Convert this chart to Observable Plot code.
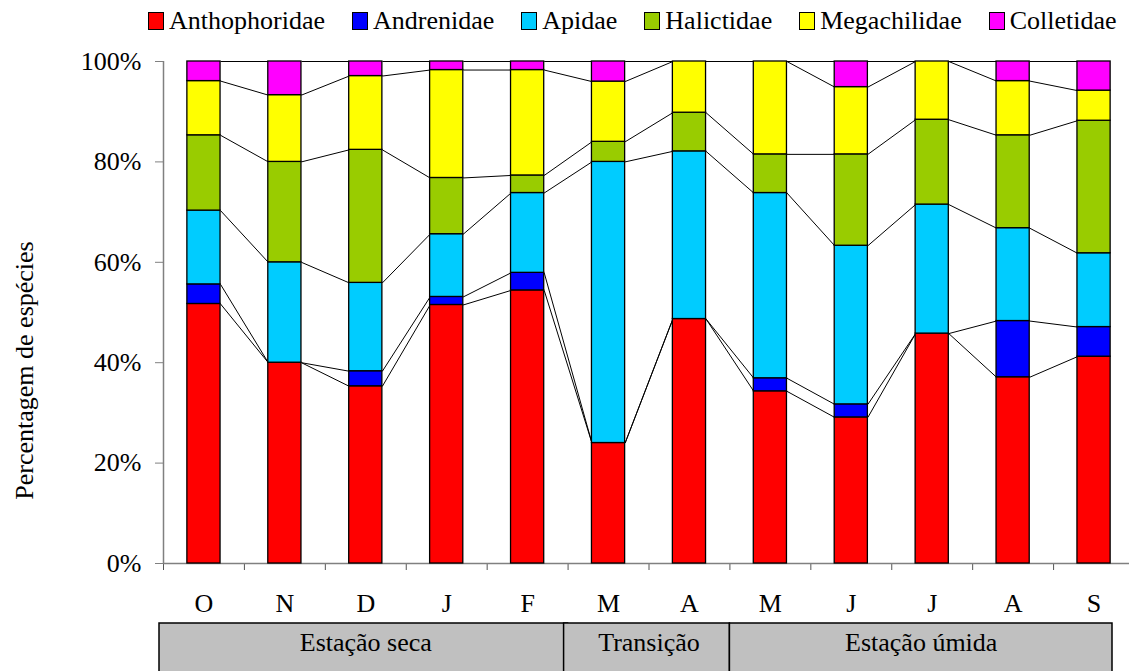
<!DOCTYPE html>
<html>
<head>
<meta charset="utf-8">
<script src="https://cdn.jsdelivr.net/npm/d3@7"></script>
<script src="https://cdn.jsdelivr.net/npm/@observablehq/plot@0.6"></script>
<style>
  body { margin: 0; background: white; font-family: "Liberation Serif", "Times New Roman", serif; }
  #legend { position: relative; height: 42px; display: flex; align-items: center; padding-left: 148px; font-size: 26px; color: black; }
  .item { display: flex; align-items: center; margin-right: 27px; }
  .sw { width: 14px; height: 16px; border: 1.5px solid black; margin-right: 5px; }
  svg { display: block; }
</style>
</head>
<body>
<div id="legend"></div>
<div id="chart"></div>
<div id="seasons"></div>
<script>
// ---- data ----
const months = ["O", "N", "D", "J", "F", "M", "A", "M", "J", "J", "A", "S"];
const families = ["Anthophoridae", "Andrenidae", "Apidae", "Halictidae", "Megachilidae", "Colletidae"];
const familyColors = ["#FF0000", "#0000FF", "#00CCFF", "#99CC00", "#FFFF00", "#FF00FF"];
const anthophoridae = [51.7, 40.0, 35.3, 51.5, 54.4, 24.0, 48.7, 34.3, 29.1, 45.8, 37.1, 41.2];
const andrenidae    = [3.9, 0, 3.0, 1.6, 3.5, 0, 0, 2.6, 2.6, 0, 11.2, 5.9];
const apidae        = [14.7, 20.0, 17.6, 12.5, 15.9, 56.0, 33.4, 36.9, 31.6, 25.7, 18.5, 14.7];
const halictidae    = [15.0, 20.0, 26.5, 11.2, 3.5, 4.0, 7.7, 7.7, 18.2, 16.9, 18.5, 26.4];
const megachilidae  = [10.8, 13.3, 14.7, 21.5, 21.0, 12.0, 10.2, 18.5, 13.4, 11.6, 10.8, 6.0];
const colletidae    = [3.9, 6.7, 2.9, 1.7, 1.7, 4.0, 0, 0, 5.1, 0, 3.9, 5.8];
const seasonLabels = ["Estação seca", "Transição", "Estação úmida"];
const seasonFirst = [0, 5, 7];   // index of first month in season
const seasonLast = [4, 6, 11];   // index of last month in season
const yTicks = [0, 20, 40, 60, 80, 100];
const ylabel = "Percentagem de espécies";

// ---- derived tables ----
const series = [anthophoridae, andrenidae, apidae, halictidae, megachilidae, colletidae];
const segments = [];
const cumTops = families.map(() => []);
months.forEach((m, i) => {
  let cum = 0;
  families.forEach((f, k) => {
    const v = series[k][i];
    if (v > 0) segments.push({i, family: f, y1: cum, y2: cum + v});
    cum += v;
    cumTops[k][i] = cum;
  });
});
const barHalf = 0.205;
const connectors = [];
cumTops.forEach((tops, k) => {
  for (let i = 0; i < months.length - 1; i++) {
    connectors.push({a: i, b: i + 1, ya: tops[i], yb: tops[i + 1]});
  }
});
const seasonRows = seasonLabels.map((label, j) => ({label, first: seasonFirst[j], last: seasonLast[j]}));

// ---- legend ----
const legend = document.getElementById("legend");
families.forEach((f, k) => {
  const it = document.createElement("div");
  it.className = "item";
  const sw = document.createElement("div");
  sw.className = "sw";
  sw.style.background = familyColors[k];
  const t = document.createElement("span");
  t.textContent = f;
  it.appendChild(sw); it.appendChild(t);
  legend.appendChild(it);
});

const font = "'Liberation Serif', 'Times New Roman', serif";
const xScale = {domain: [-0.5, months.length - 0.5], range: [163, 1134]};

const chart = Plot.plot({
  width: 1129,
  height: 580,
  marginTop: 19,
  marginBottom: 59,
  marginLeft: 163,
  marginRight: 0,
  x: xScale,
  y: {domain: [0, 100]},
  color: {domain: families, range: familyColors},
  style: {fontFamily: font, fontSize: "26px", color: "black", background: "white"},
  marks: [
    Plot.axisY({ticks: yTicks, tickFormat: d => d + "%", tickSize: 8, tickPadding: 14, stroke: "#808080", fill: "black", label: null}),
    Plot.axisX({ticks: d3.range(months.length + 1).map(i => i - 0.5), tickSize: 7, tickFormat: () => "", stroke: "#555", label: null}),
    Plot.axisX({ticks: d3.range(months.length), tickSize: 0, tickPadding: 30, tickFormat: i => months[i], fill: "black", label: null}),
    Plot.ruleY([0], {stroke: "#808080", strokeWidth: 1.5}),
    Plot.ruleX([-0.5], {y1: 0, y2: 100, stroke: "#808080", strokeWidth: 1.5}),
    Plot.link(connectors, {x1: d => d.a + barHalf, x2: d => d.b - barHalf, y1: "ya", y2: "yb", stroke: "black", strokeWidth: 1}),
    Plot.rect(segments, {x1: d => d.i - barHalf, x2: d => d.i + barHalf, y1: "y1", y2: "y2", fill: "family", stroke: "black", strokeWidth: 1.3}),
    Plot.text([ylabel], {frameAnchor: "left", textAnchor: "middle", rotate: -90, dx: -139, dy: 58, fontSize: 26, fill: "black"})
  ]
});
document.getElementById("chart").appendChild(chart);

const seasonsPlot = Plot.plot({
  width: 1129,
  height: 60,
  margin: 0,
  x: {...xScale, axis: null},
  style: {fontFamily: font, fontSize: "26px", color: "black", background: "white"},
  marks: [
    Plot.rect(seasonRows.filter(d => d.last < months.length - 1), {x1: d => d.first - 0.5, x2: d => d.last + 0.5, insetTop: 1, insetLeft: -4, fill: "#C0C0C0", stroke: "black", strokeWidth: 1.5}),
    Plot.rect(seasonRows.filter(d => d.last === months.length - 1), {x1: d => d.first - 0.5, x2: d => d.last + 0.5, insetTop: 1, insetRight: 22, fill: "#C0C0C0", stroke: "black", strokeWidth: 1.5}),
    Plot.text(seasonRows.filter(d => d.last < months.length - 1), {x: d => (d.first + d.last) / 2, text: "label", frameAnchor: "top", lineAnchor: "middle", dy: 20, fill: "black"}),
    Plot.text(seasonRows.filter(d => d.last === months.length - 1), {x: d => (d.first + d.last) / 2, text: "label", frameAnchor: "top", lineAnchor: "middle", dy: 20, dx: -11, fill: "black"})
  ]
});
document.getElementById("seasons").appendChild(seasonsPlot);
</script>
</body>
</html>
